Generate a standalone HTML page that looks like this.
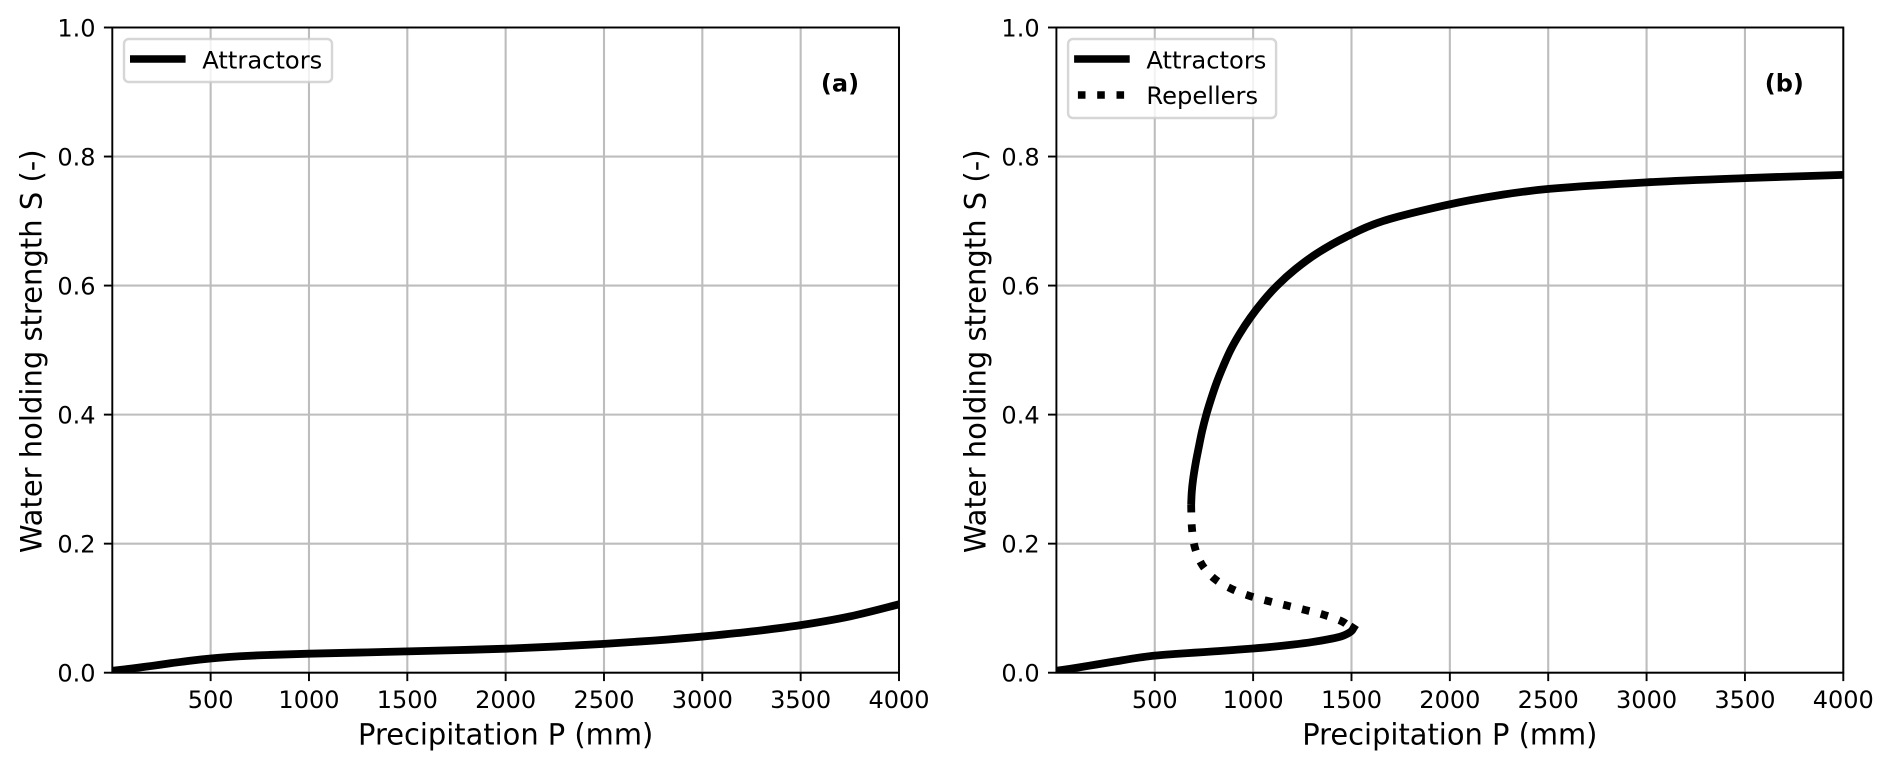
<!DOCTYPE html>
<html lang="en">
<head>
<meta charset="utf-8">
<title>Water holding strength vs precipitation</title>
<style>
html,body{margin:0;padding:0;background:#fff;width:1892px;height:771px;overflow:hidden}
svg{display:block}
text{font-family:"DejaVu Sans","Liberation Sans",sans-serif;fill:#000}
</style>
</head>
<body>
<svg id="chart" xmlns="http://www.w3.org/2000/svg" width="1892" height="771" viewBox="0 0 1892 771">
  <rect x="0" y="0" width="1892" height="771" fill="#fff"/>
  <defs>
    <clipPath id="clip-a"><rect x="112.3" y="27.5" width="786.7" height="645.2"/></clipPath>
    <clipPath id="clip-b"><rect x="1056.4" y="27.5" width="786.9" height="645.2"/></clipPath>
  </defs>
  <g id="panel-a"></g>
  <g id="panel-b"></g>
</svg>
<script>
const xTicks = [500, 1000, 1500, 2000, 2500, 3000, 3500, 4000];
const yTicks = [0.0, 0.2, 0.4, 0.6, 0.8, 1.0];
const xDomain = [0, 4000];
const yDomain = [0, 1];

const panelAAttractorP = [1, 100, 200, 300, 400, 500, 600, 700, 800, 1000, 1250, 1500, 1750, 2000, 2250, 2500, 2750, 3000, 3250, 3500, 3750, 4000];
const panelAAttractorS = [0.003, 0.0065, 0.0105, 0.0148, 0.0188, 0.022, 0.0245, 0.0263, 0.0275, 0.0295, 0.0312, 0.033, 0.035, 0.0372, 0.0405, 0.0447, 0.0497, 0.056, 0.0638, 0.0737, 0.0872, 0.106];

const panelBLowerP = [1, 100, 200, 300, 400, 500, 600, 700, 800, 900, 1000, 1100, 1200, 1300, 1400, 1450, 1480, 1500, 1510];
const panelBLowerS = [0.003, 0.0075, 0.0125, 0.0175, 0.0225, 0.0265, 0.029, 0.031, 0.033, 0.0352, 0.0375, 0.0402, 0.0435, 0.0475, 0.0528, 0.0565, 0.0605, 0.0645, 0.069];

const panelBUpperP = [685, 688, 695, 708, 724, 741, 762, 787, 815, 848, 885, 931, 985, 1048, 1122, 1213, 1325, 1470, 1660, 1985, 2250, 2510, 3000, 3500, 4000];
const panelBUpperS = [0.26, 0.28, 0.30, 0.325, 0.35, 0.375, 0.40, 0.425, 0.45, 0.475, 0.50, 0.525, 0.55, 0.575, 0.60, 0.625, 0.65, 0.675, 0.70, 0.725, 0.74, 0.75, 0.76, 0.7665, 0.7716];

const panelBRepellerP = [685, 689, 704, 741, 806, 890, 982, 1077, 1172, 1267, 1361, 1455, 1500];
const panelBRepellerS = [0.26, 0.224, 0.194, 0.167, 0.145, 0.130, 0.119, 0.111, 0.104, 0.097, 0.0895, 0.079, 0.068];

const NS = 'http://www.w3.org/2000/svg';
const TOP = 27.5, BOTTOM = 672.7;

function scaleLinear(domain, range) {
  return function (v) {
    return range[0] + (v - domain[0]) / (domain[1] - domain[0]) * (range[1] - range[0]);
  };
}

function make(parent, tag, props, text) {
  const el = document.createElementNS(NS, tag);
  for (const k in props) el.setAttribute(k, props[k]);
  if (text !== undefined) el.textContent = text;
  parent.appendChild(el);
  return el;
}

function smoothPath(xs, ys, sx, sy) {
  const p = xs.map(function (x, i) { return [sx(x), sy(ys[i])]; });
  let d = 'M' + p[0][0].toFixed(2) + ' ' + p[0][1].toFixed(2);
  for (let i = 0; i < p.length - 1; i++) {
    const a = p[Math.max(i - 1, 0)], b = p[i], c = p[i + 1], e = p[Math.min(i + 2, p.length - 1)];
    const c1x = b[0] + (c[0] - a[0]) / 6, c1y = b[1] + (c[1] - a[1]) / 6;
    const c2x = c[0] - (e[0] - b[0]) / 6, c2y = c[1] - (e[1] - b[1]) / 6;
    d += 'C' + c1x.toFixed(2) + ' ' + c1y.toFixed(2) + ' ' + c2x.toFixed(2) + ' ' + c2y.toFixed(2) + ' ' + c[0].toFixed(2) + ' ' + c[1].toFixed(2);
  }
  return d;
}

function drawAxes(g, left, right, sx, sy) {
  xTicks.forEach(function (t) {
    const grid = make(g, 'line', {x1: sx(t), x2: sx(t), y1: TOP, y2: BOTTOM, stroke: '#bdbdbd', 'stroke-width': 2.1});
    
    
  });
  yTicks.forEach(function (t) {
    const grid = make(g, 'line', {x1: left, x2: right, y1: sy(t), y2: sy(t), stroke: '#bdbdbd', 'stroke-width': 2.1});
    
    
  });
}

function drawFrame(g, left, right, sx, sy) {
  xTicks.forEach(function (t) {
    const tick = make(g, 'line', {x1: sx(t), x2: sx(t), y1: BOTTOM, y2: BOTTOM + 8.4, stroke: '#000', 'stroke-width': 1.92});
    
    
    const label = make(g, 'text', {x: sx(t), y: 708, 'font-size': 24, 'text-anchor': 'middle'}, String(t));
    
    
  });
  yTicks.forEach(function (t) {
    const tick = make(g, 'line', {x1: left - 8.4, x2: left, y1: sy(t), y2: sy(t), stroke: '#000', 'stroke-width': 1.92});
    
    
    const label = make(g, 'text', {x: left - 16.8, y: sy(t) + 9, 'font-size': 24, 'text-anchor': 'end'}, t.toFixed(1));
    
    
  });
  const frame = make(g, 'rect', {x: left, y: TOP, width: right - left, height: BOTTOM - TOP, fill: 'none', stroke: '#000', 'stroke-width': 1.92, 'stroke-linecap': 'square'});
  
  
  const xTitle = make(g, 'text', {x: (left + right) / 2, y: 744.3, 'font-size': 28.9, 'text-anchor': 'middle'}, 'Precipitation P (mm)');
  
  
  const yx = left - 70.8, yc = (TOP + BOTTOM) / 2 + 1.2;
  const yTitle = make(g, 'text', {x: yx, y: yc, 'font-size': 29, 'text-anchor': 'middle', transform: 'rotate(-90 ' + yx + ' ' + yc + ')'}, 'Water holding strength S (-)');
  
  
}

function drawLegend(g, left, rows) {
  const bx = left + 11.7, w = 208, h = rows === 1 ? 43 : 79;
  const box = make(g, 'rect', {x: bx, y: 39, width: w, height: h, rx: 4.8, ry: 4.8, fill: '#fff', 'fill-opacity': 0.8, stroke: '#ccc', 'stroke-opacity': 0.8, 'stroke-width': 2.4});
  
  
  const h1 = make(g, 'line', {x1: left + 21.5, x2: left + 69.5, y1: 59, y2: 59, stroke: '#000', 'stroke-width': 7.6, 'stroke-linecap': 'square'});
  
  
  const t1 = make(g, 'text', {x: left + 90, y: 68.5, 'font-size': 24.2}, 'Attractors');
  
  
  if (rows === 2) {
    const h2 = make(g, 'line', {x1: left + 21.5, x2: left + 69.5, y1: 95, y2: 95, stroke: '#000', 'stroke-width': 7.6, 'stroke-dasharray': '7.6 11.7'});
    
    
    const t2 = make(g, 'text', {x: left + 90, y: 104, 'font-size': 24.2}, 'Repellers');
    
    
  }
}

/* Panel (a) */
const gA = document.getElementById('panel-a');
const xA = scaleLinear(xDomain, [112.3, 899]);
const yA = scaleLinear(yDomain, [BOTTOM, TOP]);
drawAxes(gA, 112.3, 899, xA, yA);
const lineA = make(gA, 'path', {d: smoothPath(panelAAttractorP, panelAAttractorS, xA, yA), fill: 'none', stroke: '#000', 'stroke-width': 7.8, 'stroke-linecap': 'square', 'clip-path': 'url(#clip-a)'});


drawFrame(gA, 112.3, 899, xA, yA);
drawLegend(gA, 112.3, 1);
const tagA = make(gA, 'text', {x: xA(3700), y: 91.7, 'font-size': 24, 'font-weight': 'bold', 'text-anchor': 'middle'}, '(a)');



/* Panel (b) */
const gB = document.getElementById('panel-b');
const xB = scaleLinear(xDomain, [1056.4, 1843.3]);
const yB = scaleLinear(yDomain, [BOTTOM, TOP]);
drawAxes(gB, 1056.4, 1843.3, xB, yB);
const lineLower = make(gB, 'path', {d: smoothPath(panelBLowerP, panelBLowerS, xB, yB), fill: 'none', stroke: '#000', 'stroke-width': 7.8, 'stroke-linecap': 'square', 'clip-path': 'url(#clip-b)'});


const lineUpper = make(gB, 'path', {d: smoothPath(panelBUpperP, panelBUpperS, xB, yB), fill: 'none', stroke: '#000', 'stroke-width': 7.8, 'stroke-linecap': 'butt', 'clip-path': 'url(#clip-b)'});


const lineRep = make(gB, 'path', {d: smoothPath(panelBRepellerP, panelBRepellerS, xB, yB), fill: 'none', stroke: '#000', 'stroke-width': 7.8, 'stroke-dasharray': '7.6 11.7', 'clip-path': 'url(#clip-b)'});


drawFrame(gB, 1056.4, 1843.3, xB, yB);
drawLegend(gB, 1056.4, 2);
const tagB = make(gB, 'text', {x: xB(3700), y: 91.7, 'font-size': 24, 'font-weight': 'bold', 'text-anchor': 'middle'}, '(b)');


</script>
</body>
</html>
